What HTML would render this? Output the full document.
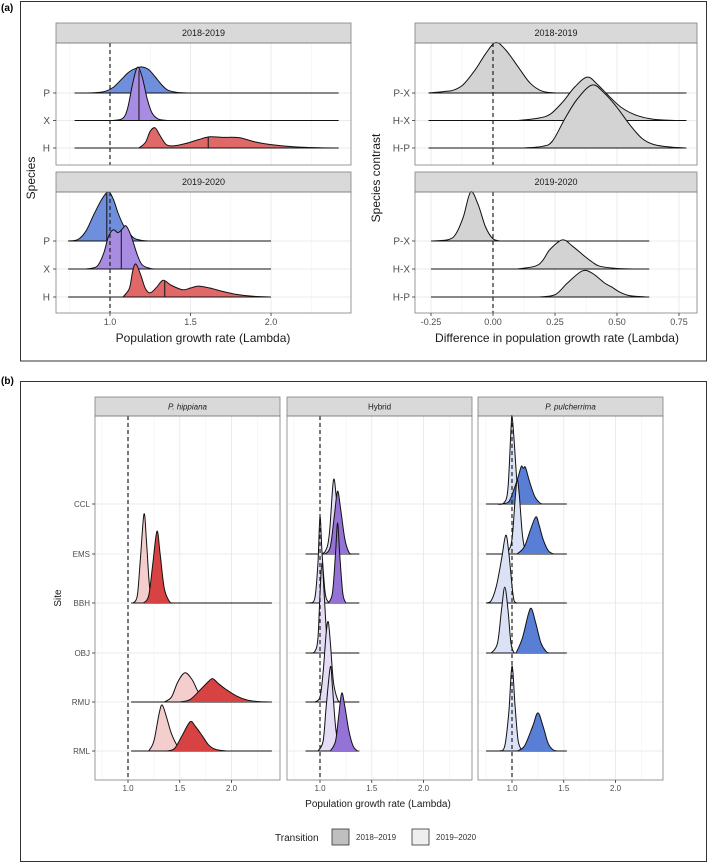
<!DOCTYPE html>
<html><head><meta charset="utf-8">
<style>
html,body{margin:0;padding:0;background:#fff;}
svg{display:block;font-family:"Liberation Sans",Arial,sans-serif;}
</style></head>
<body>
<svg id="fig" width="709" height="863" viewBox="0 0 709 863" xmlns="http://www.w3.org/2000/svg">
<rect x="0" y="0" width="709" height="863" fill="#fff"/>
<text x="1" y="11" font-size="10" font-weight="bold">(a)</text>
<rect x="20.5" y="1.5" width="686" height="359.5" fill="none" stroke="#333" stroke-width="1"/>
<text x="1" y="384" font-size="10" font-weight="bold">(b)</text>
<rect x="20.5" y="381.5" width="686" height="480" fill="none" stroke="#333" stroke-width="1"/>
<g id="root"></g>
</svg>
<script>
// ---------- DATA (panel a, left: lambda by species) ----------
const speciesRows = ["P","X","H"];
const lambdaTicks = [1.0, 1.5, 2.0];
const lambdaTickLabels = ["1.0","1.5","2.0"];
const a18_range = [0.78, 2.42];
const a18_P = [[0.78,0],[0.9,0.01],[0.97,0.06],[1.02,0.2],[1.07,0.48],[1.12,0.76],[1.17,0.9],[1.2,0.93],[1.24,0.84],[1.28,0.58],[1.32,0.3],[1.36,0.1],[1.42,0.02],[1.5,0]];
const a18_X = [[1.02,0],[1.08,0.08],[1.11,0.45],[1.14,1.3],[1.17,1.9],[1.2,1.55],[1.23,0.8],[1.26,0.28],[1.3,0.05],[1.36,0]];
const a18_H = [[1.18,0],[1.22,0.2],[1.25,0.6],[1.28,0.72],[1.31,0.45],[1.35,0.12],[1.4,0.08],[1.47,0.16],[1.55,0.3],[1.62,0.4],[1.7,0.38],[1.8,0.37],[1.9,0.22],[2.0,0.12],[2.15,0.04],[2.3,0.01],[2.42,0]];
const a18_med = [1.18, 1.18, 1.61];
const a19_range = [0.74, 2.0];
const a19_P = [[0.74,0],[0.8,0.05],[0.85,0.35],[0.9,0.95],[0.95,1.5],[0.99,1.75],[1.02,1.5],[1.05,1.0],[1.08,0.6],[1.11,0.35],[1.15,0.1],[1.2,0.02],[1.25,0]];
const a19_X = [[0.85,0],[0.92,0.1],[0.96,0.55],[0.99,1.15],[1.02,1.4],[1.05,1.3],[1.08,1.45],[1.1,1.54],[1.13,1.2],[1.17,0.5],[1.2,0.15],[1.25,0.02],[1.3,0]];
const a19_H = [[1.08,0],[1.12,0.3],[1.14,0.9],[1.16,1.18],[1.19,0.8],[1.22,0.3],[1.25,0.15],[1.29,0.35],[1.33,0.6],[1.38,0.42],[1.45,0.26],[1.5,0.32],[1.55,0.39],[1.62,0.32],[1.7,0.2],[1.78,0.1],[1.88,0.03],[2.0,0]];
const a19_med = [0.98, 1.07, 1.34];

// ---------- DATA (panel a, right: contrasts) ----------
const contrastRows = ["P-X","H-X","H-P"];
const diffTicks = [-0.25, 0, 0.25, 0.5, 0.75];
const diffTickLabels = ["-0.25","0.00","0.25","0.50","0.75"];
const c18_range = [-0.26, 0.78];
const c18_PX = [[-0.26,0],[-0.2,0.05],[-0.16,0.1],[-0.12,0.3],[-0.07,0.85],[-0.03,1.4],[0.01,1.8],[0.05,1.55],[0.1,0.95],[0.15,0.35],[0.2,0.06],[0.26,0]];
const c18_HX = [[0.1,0],[0.18,0.08],[0.23,0.22],[0.28,0.65],[0.33,1.2],[0.38,1.55],[0.42,1.3],[0.47,0.85],[0.52,0.45],[0.58,0.18],[0.65,0.04],[0.74,0]];
const c18_HP = [[0.12,0],[0.2,0.06],[0.24,0.25],[0.29,1.05],[0.34,1.75],[0.4,2.25],[0.45,1.95],[0.5,1.45],[0.55,0.85],[0.6,0.35],[0.65,0.12],[0.72,0.03],[0.78,0]];
const c19_range = [-0.25, 0.63];
const c19_PX = [[-0.25,0],[-0.18,0.05],[-0.15,0.25],[-0.12,0.85],[-0.09,1.75],[-0.06,1.3],[-0.03,0.5],[0,0.08],[0.03,0]];
const c19_HX = [[0.1,0],[0.17,0.1],[0.2,0.3],[0.23,0.7],[0.28,1.04],[0.32,0.82],[0.37,0.45],[0.4,0.25],[0.43,0.1],[0.5,0.02],[0.58,0]];
const c19_HP = [[0.18,0],[0.25,0.08],[0.3,0.5],[0.36,0.93],[0.4,0.85],[0.45,0.5],[0.48,0.35],[0.51,0.18],[0.55,0.05],[0.62,0]];

// ---------- DATA (panel b: sites) ----------
const sites = ["CCL","EMS","BBH","OBJ","RMU","RML"];
const bTicks = [1.0, 1.5, 2.0];
const bTickLabels = ["1.0","1.5","2.0"];
const hip_range = [1.03, 2.39];
const hip_BBH_19 = [[1.05,0],[1.09,0.15],[1.12,0.9],[1.155,1.8],[1.18,1.2],[1.21,0.3],[1.25,0.03],[1.3,0]];
const hip_BBH_18 = [[1.15,0],[1.2,0.15],[1.24,0.8],[1.28,1.45],[1.31,1.0],[1.35,0.3],[1.4,0.03],[1.44,0]];
const hip_RMU_19 = [[1.35,0],[1.42,0.1],[1.48,0.4],[1.55,0.59],[1.62,0.45],[1.68,0.2],[1.75,0.05],[1.82,0]];
const hip_RMU_18 = [[1.5,0],[1.6,0.05],[1.7,0.25],[1.78,0.42],[1.82,0.47],[1.88,0.36],[1.95,0.25],[2.05,0.12],[2.15,0.04],[2.25,0.01],[2.35,0]];
const hip_RML_19 = [[1.2,0],[1.25,0.2],[1.3,0.75],[1.33,0.93],[1.37,0.7],[1.42,0.35],[1.48,0.1],[1.55,0.02],[1.6,0]];
const hip_RML_18 = [[1.38,0],[1.45,0.05],[1.52,0.3],[1.6,0.59],[1.65,0.5],[1.72,0.3],[1.78,0.12],[1.85,0.03],[1.95,0]];
const hyb_range = [0.86, 1.38];
const hyb_EMS_19 = [[0.98,0],[1.05,0.05],[1.09,0.4],[1.13,1.49],[1.16,1.1],[1.2,0.4],[1.25,0.05],[1.3,0]];
const hyb_EMS_18 = [[1.05,0],[1.1,0.15],[1.14,0.8],[1.17,1.27],[1.2,0.9],[1.24,0.3],[1.28,0.03],[1.31,0]];
const hyb_BBH_19 = [[0.9,0],[0.95,0.1],[0.98,0.8],[1.0,1.74],[1.02,1.0],[1.05,0.2],[1.08,0.02],[1.1,0]];
const hyb_BBH_18 = [[1.08,0],[1.12,0.2],[1.15,1.0],[1.17,1.62],[1.19,1.0],[1.22,0.2],[1.25,0]];
const hyb_OBJ_19 = [[0.9,0],[0.95,0.03],[0.98,0.3],[1.0,1.2],[1.02,1.82],[1.04,1.2],[1.07,0.2],[1.1,0.02],[1.13,0]];
const hyb_RMU_19 = [[0.95,0],[1.0,0.1],[1.03,0.6],[1.06,1.4],[1.08,1.62],[1.1,1.2],[1.13,0.4],[1.17,0.05],[1.2,0]];
const hyb_RML_19 = [[0.98,0],[1.03,0.2],[1.06,0.9],[1.1,1.7],[1.12,1.3],[1.15,0.5],[1.18,0.1],[1.22,0]];
const hyb_RML_18 = [[1.1,0],[1.15,0.2],[1.18,0.7],[1.21,1.17],[1.24,0.9],[1.28,0.4],[1.32,0.1],[1.36,0]];
const pul_range = [0.75, 1.53];
const pul_CCL_19 = [[0.85,0],[0.92,0.02],[0.96,0.3],[0.99,1.5],[1.0,1.78],[1.02,1.3],[1.05,0.4],[1.08,0.05],[1.1,0]];
const pul_CCL_18 = [[0.9,0],[0.97,0.05],[1.02,0.3],[1.06,0.55],[1.09,0.76],[1.11,0.72],[1.13,0.74],[1.17,0.45],[1.22,0.15],[1.27,0.02],[1.3,0]];
const pul_EMS_19 = [[0.9,0],[0.96,0.05],[1.0,0.3],[1.03,1.1],[1.05,1.5],[1.07,1.2],[1.1,0.4],[1.13,0.05],[1.16,0]];
const pul_EMS_18 = [[1.05,0],[1.12,0.15],[1.18,0.5],[1.23,0.75],[1.26,0.6],[1.3,0.3],[1.35,0.07],[1.4,0]];
const pul_BBH_19 = [[0.75,0],[0.8,0.05],[0.85,0.35],[0.9,0.9],[0.94,1.37],[0.97,1.0],[1.0,0.35],[1.02,0.05],[1.05,0]];
const pul_OBJ_19 = [[0.8,0],[0.86,0.2],[0.9,0.9],[0.93,1.33],[0.96,0.9],[0.99,0.2],[1.02,0]];
const pul_OBJ_18 = [[1.04,0],[1.1,0.3],[1.16,0.8],[1.19,0.89],[1.23,0.6],[1.28,0.2],[1.33,0.03],[1.36,0]];
const pul_RML_19 = [[0.88,0],[0.93,0.1],[0.97,0.8],[1.0,1.72],[1.03,0.9],[1.06,0.2],[1.1,0]];
const pul_RML_18 = [[1.05,0],[1.12,0.1],[1.2,0.5],[1.25,0.77],[1.3,0.5],[1.35,0.15],[1.4,0.02],[1.45,0]];

// ---------- DRAWING ----------
const NS = "http://www.w3.org/2000/svg";
const root = document.getElementById("root");
function el(tag, attrs, parent) {
  const e = document.createElementNS(NS, tag);
  for (const k in attrs) e.setAttribute(k, attrs[k]);
  (parent || root).appendChild(e);
  return e;
}
function txt(x, y, s, size, anchor, fill, parent) {
  const t = el("text", {x: x, y: y, "font-size": size, "text-anchor": anchor || "start", fill: fill || "#4d4d4d"}, parent);
  t.textContent = s;
  return t;
}
function scale(d0, d1, r0, r1) { return v => r0 + (v - d0) / (d1 - d0) * (r1 - r0); }
function smoothPath(pts) {
  let d = "M" + pts[0][0].toFixed(2) + "," + pts[0][1].toFixed(2);
  for (let i = 0; i < pts.length - 1; i++) {
    const p0 = pts[Math.max(0, i - 1)], p1 = pts[i], p2 = pts[i + 1], p3 = pts[Math.min(pts.length - 1, i + 2)];
    const c1x = p1[0] + (p2[0] - p0[0]) / 6, c1y = p1[1] + (p2[1] - p0[1]) / 6;
    const c2x = p2[0] - (p3[0] - p1[0]) / 6, c2y = p2[1] - (p3[1] - p1[1]) / 6;
    d += "C" + c1x.toFixed(2) + "," + c1y.toFixed(2) + " " + c2x.toFixed(2) + "," + c2y.toFixed(2) + " " + p2[0].toFixed(2) + "," + p2[1].toFixed(2);
  }
  return d;
}
function heightAt(pts, v) {
  for (let i = 0; i < pts.length - 1; i++) {
    if (v >= pts[i][0] && v <= pts[i + 1][0]) {
      const t = (v - pts[i][0]) / (pts[i + 1][0] - pts[i][0]);
      return pts[i][1] + t * (pts[i + 1][1] - pts[i][1]);
    }
  }
  return 0;
}
function panel(o) {
  const g = el("g", {});
  
  
  el("rect", {x: o.x0, y: o.y0, width: o.x1 - o.x0, height: o.y1 - o.y0, fill: "#fff"}, g);
  o.minors.forEach(v => el("line", {x1: o.sx(v), x2: o.sx(v), y1: o.y0, y2: o.y1, stroke: "#f2f2f2", "stroke-width": 0.6}, g));
  o.majors.forEach(v => el("line", {x1: o.sx(v), x2: o.sx(v), y1: o.y0, y2: o.y1, stroke: "#ebebeb", "stroke-width": 1}, g));
  o.rowsY.forEach(y => el("line", {x1: o.x0, x2: o.x1, y1: y, y2: y, stroke: "#ebebeb", "stroke-width": 1}, g));
  const strip = el("rect", {x: o.x0, y: o.sy0, width: o.x1 - o.x0, height: o.y0 - o.sy0, fill: "#d9d9d9", stroke: "#7f7f7f", "stroke-width": 0.8});
  
  
  const st = txt((o.x0 + o.x1) / 2, (o.sy0 + o.y0) / 2 + o.stripFont * 0.36, o.stripLabel, o.stripFont, "middle", "#1a1a1a");
  if (o.italic) st.setAttribute("font-style", "italic");
  
  
  return g;
}
function frame(o) {
  el("rect", {x: o.x0, y: o.y0, width: o.x1 - o.x0, height: o.y1 - o.y0, fill: "none", stroke: "#7f7f7f", "stroke-width": 0.8});
}
function ridge(name, sx, baseY, unit, pts, fill, range, median) {
  const g = el("g", {});
  
  
  const P = pts.map(p => [sx(p[0]), baseY - p[1] * unit]);
  const curve = smoothPath(P);
  el("path", {d: curve + "L" + P[P.length - 1][0] + "," + baseY + "L" + P[0][0] + "," + baseY + "Z", fill: fill, stroke: "none"}, g);
  if (range) {
    el("line", {x1: sx(range[0]), x2: sx(range[1]), y1: baseY, y2: baseY, stroke: "#111", "stroke-width": 1}, g);
  }
  el("path", {d: curve, fill: "none", stroke: "#111", "stroke-width": 1}, g);
  if (median !== undefined) {
    el("line", {x1: sx(median), x2: sx(median), y1: baseY, y2: baseY - heightAt(pts, median) * unit, stroke: "#111", "stroke-width": 1}, g);
  }
}
function dashed(x, y0, y1, name) {
  const l = el("line", {x1: x, x2: x, y1: y0, y2: y1, stroke: "#222", "stroke-width": 1.2, "stroke-dasharray": "4,3"});
  
  
}
function yLabels(labels, ys, xRight, size, tickX, name) {
  labels.forEach((s, i) => {
    const t = txt(xRight, ys[i] + size * 0.35, s, size, "end");
    
    
    el("line", {x1: tickX - 3, x2: tickX, y1: ys[i], y2: ys[i], stroke: "#333", "stroke-width": 0.8});
  });
}
function xLabels(ticks, labels, sx, y1, size, name) {
  ticks.forEach((v, i) => {
    el("line", {x1: sx(v), x2: sx(v), y1: y1, y2: y1 + 3, stroke: "#333", "stroke-width": 0.8});
    const t = txt(sx(v), y1 + 3 + size, labels[i], size, "middle");
    
    
  });
}

// ===== Panel a left =====
const BLUE_A = "#6f8fdc", PURP_A = "#a78ce2", RED_A = "#e06868", GREY_A = "#d3d3d3";
{
  const sx = scale(1.0, 2.0, 110, 271);
  const minors = [0.75, 1.25, 1.75, 2.25];
  const rowsTop = [93, 120.5, 148], rowsBot = [241, 269, 297];
  const unit = 28;
  panel({name: "lambda-2018-2019-panel", x0: 56, x1: 351, y0: 43, y1: 165, sy0: 23, sx: sx, majors: lambdaTicks, minors: minors, rowsY: rowsTop, stripLabel: "2018-2019", stripFont: 9});
  const topData = [a18_P, a18_X, a18_H], topFill = [BLUE_A, PURP_A, RED_A];
  for (let i = 0; i < 3; i++) ridge("ridge-2018-" + speciesRows[i], sx, rowsTop[i], unit, topData[i], topFill[i], a18_range, a18_med[i]);
  dashed(sx(1.0), 43, 165, "reference-line-top");
  frame({x0: 56, x1: 351, y0: 43, y1: 165});
  yLabels(speciesRows, rowsTop, 50, 10, 56, "species-label-top");
  panel({name: "lambda-2019-2020-panel", x0: 56, x1: 351, y0: 192, y1: 313, sy0: 172, sx: sx, majors: lambdaTicks, minors: minors, rowsY: rowsBot, stripLabel: "2019-2020", stripFont: 9});
  const botData = [a19_P, a19_X, a19_H];
  for (let i = 0; i < 3; i++) ridge("ridge-2019-" + speciesRows[i], sx, rowsBot[i], unit, botData[i], topFill[i], a19_range, a19_med[i]);
  dashed(sx(1.0), 192, 313, "reference-line-bottom");
  frame({x0: 56, x1: 351, y0: 192, y1: 313});
  yLabels(speciesRows, rowsBot, 50, 10, 56, "species-label-bottom");
  xLabels(lambdaTicks, lambdaTickLabels, sx, 313, 9, "lambda-x");
  const t = txt(203, 342, "Population growth rate (Lambda)", 12, "middle", "#1a1a1a");
  
  
  const y = txt(0, 0, "Species", 12, "middle", "#1a1a1a");
  y.setAttribute("transform", "translate(35,178) rotate(-90)");
  
  
}
// ===== Panel a right =====
{
  const sx = scale(-0.25, 0.75, 431, 679);
  const minors = [-0.125, 0.125, 0.375, 0.625];
  const rowsTop = [93, 120.5, 148], rowsBot = [241, 269, 297];
  const unit = 28;
  panel({name: "contrast-2018-2019-panel", x0: 415, x1: 697, y0: 43, y1: 165, sy0: 23, sx: sx, majors: diffTicks, minors: minors, rowsY: rowsTop, stripLabel: "2018-2019", stripFont: 9});
  const topData = [c18_PX, c18_HX, c18_HP];
  for (let i = 0; i < 3; i++) ridge("contrast-ridge-2018-" + contrastRows[i].toLowerCase(), sx, rowsTop[i], unit, topData[i], GREY_A, c18_range);
  dashed(sx(0), 43, 165, "zero-line-top");
  frame({x0: 415, x1: 697, y0: 43, y1: 165});
  yLabels(contrastRows, rowsTop, 410, 10, 415, "contrast-label-top");
  panel({name: "contrast-2019-2020-panel", x0: 415, x1: 697, y0: 192, y1: 313, sy0: 172, sx: sx, majors: diffTicks, minors: minors, rowsY: rowsBot, stripLabel: "2019-2020", stripFont: 9});
  const botData = [c19_PX, c19_HX, c19_HP];
  for (let i = 0; i < 3; i++) ridge("contrast-ridge-2019-" + contrastRows[i].toLowerCase(), sx, rowsBot[i], unit, botData[i], GREY_A, c19_range);
  dashed(sx(0), 192, 313, "zero-line-bottom");
  frame({x0: 415, x1: 697, y0: 192, y1: 313});
  yLabels(contrastRows, rowsBot, 410, 10, 415, "contrast-label-bottom");
  xLabels(diffTicks, diffTickLabels, sx, 313, 9, "diff-x");
  const t = txt(557, 342, "Difference in population growth rate (Lambda)", 12, "middle", "#1a1a1a");
  
  
  const y = txt(0, 0, "Species contrast", 12, "middle", "#1a1a1a");
  y.setAttribute("transform", "translate(380,178) rotate(-90)");
  
  
}
// ===== Panel b =====
const RED_D = "#d74343", RED_L = "#f4cdcd", PUR_D = "#9472d6", PUR_L = "#e4ddf5", BLU_D = "#587ed6", BLU_L = "#dbe2f6";
{
  const rowY = [504, 554, 603, 653, 702, 751];
  const unit = 49.5;
  const minors = [0.75, 1.25, 1.75, 2.25];
  const panels = [
    {name: "hippiana-panel", label: "P. hippiana", italic: true, x0: 95, x1: 280, one: 128, range: hip_range, dark: RED_D, light: RED_L,
     ridges: [["BBH", hip_BBH_19, hip_BBH_18], ["RMU", hip_RMU_19, hip_RMU_18], ["RML", hip_RML_19, hip_RML_18]]},
    {name: "hybrid-panel", label: "Hybrid", italic: false, x0: 287, x1: 472, one: 320, range: hyb_range, dark: PUR_D, light: PUR_L,
     ridges: [["EMS", hyb_EMS_19, hyb_EMS_18], ["BBH", hyb_BBH_19, hyb_BBH_18], ["OBJ", hyb_OBJ_19, null], ["RMU", hyb_RMU_19, null], ["RML", hyb_RML_19, hyb_RML_18]]},
    {name: "pulcherrima-panel", label: "P. pulcherrima", italic: true, x0: 478, x1: 663, one: 512, range: pul_range, dark: BLU_D, light: BLU_L,
     ridges: [["CCL", pul_CCL_19, pul_CCL_18], ["EMS", pul_EMS_19, pul_EMS_18], ["BBH", pul_BBH_19, null], ["OBJ", pul_OBJ_19, pul_OBJ_18], ["RML", pul_RML_19, pul_RML_18]]}
  ];
  panels.forEach(p => {
    const sx = scale(1.0, 2.0, p.one, p.one + 103.5);
    panel({name: p.name, x0: p.x0, x1: p.x1, y0: 416, y1: 780, sy0: 397, sx: sx, majors: bTicks, minors: minors, rowsY: rowY, stripLabel: p.label, italic: p.italic, stripFont: 8});
    p.ridges.forEach(r => {
      const by = rowY[sites.indexOf(r[0])];
      ridge(p.name + "-" + r[0].toLowerCase() + "-2019-2020", sx, by, unit, r[1], p.light, p.range);
      if (r[2]) ridge(p.name + "-" + r[0].toLowerCase() + "-2018-2019", sx, by, unit, r[2], p.dark, null);
    });
    dashed(sx(1.0), 416, 780, p.name + "-reference-line");
    frame({x0: p.x0, x1: p.x1, y0: 416, y1: 780});
    xLabels(bTicks, bTickLabels, sx, 780, 8, p.name + "-x");
  });
  yLabels(sites, rowY, 90, 8, 95, "site-label");
  const t = txt(378, 807, "Population growth rate (Lambda)", 10, "middle", "#1a1a1a");
  
  
  const y = txt(0, 0, "Site", 10, "middle", "#1a1a1a");
  y.setAttribute("transform", "translate(61,598) rotate(-90)");
  
  
  // legend
  const lg = el("g", {});
  
  
  const lt = txt(275, 841, "Transition", 10, "start", "#1a1a1a", lg);
  
  
  const k1 = el("rect", {x: 332, y: 829, width: 17, height: 16, fill: "#bfbfbf", stroke: "#333", "stroke-width": 0.8}, lg);
  
  
  const l1 = txt(356, 840, "2018–2019", 8, "start", "#333", lg);
  
  
  const k2 = el("rect", {x: 412, y: 829, width: 17, height: 16, fill: "#efefef", stroke: "#333", "stroke-width": 0.8}, lg);
  
  
  const l2 = txt(436, 840, "2019–2020", 8, "start", "#333", lg);
  
  
}
</script>
</body></html>
